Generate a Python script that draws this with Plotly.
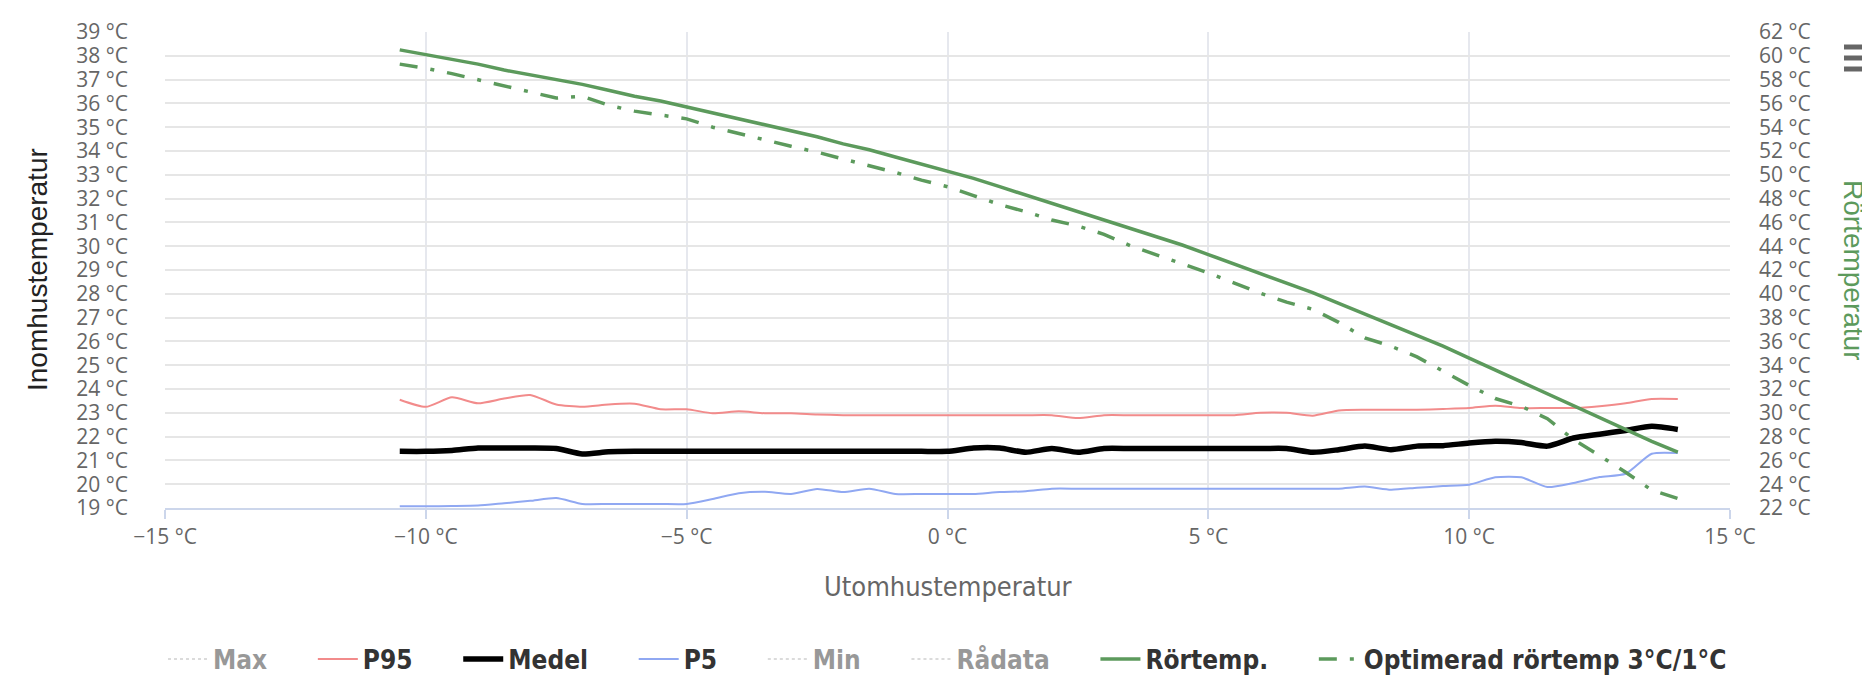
import plotly.graph_objects as go

outdoor = [-10.5, -10, -9.5, -9, -8.5, -8, -7.5, -7, -6.5, -6, -5.5, -5, -4.5, -4, -3.5, -3,
           -2.5, -2, -1.5, -1, -0.5, 0, 0.5, 1, 1.5, 2, 2.5, 3, 3.5, 4, 4.5, 5, 5.5, 6, 6.5,
           7, 7.5, 8, 8.5, 9, 9.5, 10, 10.5, 11, 11.5, 12, 12.5, 13, 13.5, 14]

p95 = [23.55, 23.25, 23.65, 23.4, 23.6, 23.75, 23.35, 23.25, 23.35, 23.38, 23.15, 23.15, 22.98,
       23.06, 22.98, 22.98, 22.93, 22.9, 22.9, 22.9, 22.9, 22.9, 22.9, 22.9, 22.9, 22.9, 22.78,
       22.9, 22.9, 22.9, 22.9, 22.9, 22.9, 23.0, 23.0, 22.88, 23.1, 23.13, 23.13, 23.13, 23.16,
       23.2, 23.3, 23.2, 23.2, 23.2, 23.28, 23.4, 23.58, 23.58]

medel = [21.38, 21.38, 21.42, 21.52, 21.52, 21.52, 21.5, 21.27, 21.36, 21.38, 21.38, 21.38, 21.38,
         21.38, 21.38, 21.38, 21.38, 21.38, 21.38, 21.38, 21.38, 21.38, 21.52, 21.52, 21.34, 21.5,
         21.34, 21.5, 21.5, 21.5, 21.5, 21.5, 21.5, 21.5, 21.5, 21.34, 21.45, 21.6, 21.45, 21.6,
         21.62, 21.73, 21.8, 21.75, 21.6, 21.94, 22.1, 22.26, 22.43, 22.3]

p5 = [19.07, 19.07, 19.08, 19.1, 19.2, 19.3, 19.42, 19.17, 19.17, 19.17, 19.17, 19.17, 19.38,
      19.62, 19.68, 19.59, 19.8, 19.67, 19.81, 19.59, 19.59, 19.59, 19.59, 19.67, 19.7, 19.81,
      19.81, 19.81, 19.81, 19.81, 19.81, 19.81, 19.81, 19.81, 19.81, 19.81, 19.81, 19.9, 19.77,
      19.85, 19.92, 19.98, 20.29, 20.29, 19.88, 20.05, 20.3, 20.44, 21.28, 21.31]

rortemp = [60.5, 60.1, 59.7, 59.3, 58.8, 58.4, 58.0, 57.6, 57.1, 56.6, 56.2, 55.7, 55.2, 54.7,
           54.2, 53.7, 53.2, 52.6, 52.1, 51.5, 50.9, 50.3, 49.7, 49.0, 48.3, 47.6, 46.9, 46.2,
           45.5, 44.8, 44.1, 43.3, 42.5, 41.7, 40.9, 40.1, 39.2, 38.3, 37.4, 36.5, 35.6, 34.6,
           33.6, 32.6, 31.6, 30.6, 29.6, 28.6, 27.6, 26.7]

optimerad = [59.3, 58.95, 58.5, 58.0, 57.45, 57.0, 56.45, 56.6, 55.85, 55.35, 55.05, 54.7, 54.0,
             53.45, 52.9, 52.4, 51.9, 51.35, 50.75, 50.2, 49.55, 49.0, 48.25, 47.5, 46.9, 46.2,
             45.7, 45.0, 44.05, 43.3, 42.55, 41.75, 40.9, 40.05, 39.3, 38.7, 37.6, 36.3, 35.6,
             34.7, 33.5, 32.3, 31.2, 30.55, 29.5, 27.75, 26.4, 25.0, 23.5, 22.8]

# series hidden in the reference (legend only, no values shown)
hidden_values = [None] * len(outdoor)

GREEN = "#5c9a5c"
W, H = 1870, 678
L, R, T, B = 157, 1722, 24, 500
NARROW = "DejaVu Sans Condensed, Roboto, sans-serif"
PAD = "\u00a0" * 5  # spacing between legend entries

def px(xp):
    return (xp - L) / (R - L)

def py(yp):
    return (B - yp) / (B - T)

fig = go.Figure()
hidden_grey = "#b8b8b8"
fig.add_trace(go.Scatter(x=outdoor, y=hidden_values, name="Max" + PAD, mode="lines", visible="legendonly",
                         line=dict(color=hidden_grey, width=2, dash="dot")))
fig.add_trace(go.Scatter(x=outdoor, y=p95, name="P95" + PAD, mode="lines",
                         line=dict(color="#f28b8b", width=2, shape="spline", smoothing=0.6)))
fig.add_trace(go.Scatter(x=outdoor, y=medel, name="Medel" + PAD, mode="lines",
                         line=dict(color="#000000", width=5.5, shape="spline", smoothing=0.6)))
fig.add_trace(go.Scatter(x=outdoor, y=p5, name="P5" + PAD, mode="lines",
                         line=dict(color="#90a8f2", width=2, shape="spline", smoothing=0.6)))
fig.add_trace(go.Scatter(x=outdoor, y=hidden_values, name="Min" + PAD, mode="lines", visible="legendonly",
                         line=dict(color=hidden_grey, width=2, dash="dot")))
fig.add_trace(go.Scatter(x=outdoor, y=hidden_values, name="Rådata" + PAD, mode="lines", visible="legendonly",
                         line=dict(color=hidden_grey, width=2, dash="dot")))
fig.add_trace(go.Scatter(x=outdoor, y=rortemp, name="Rörtemp." + PAD, mode="lines", yaxis="y2",
                         line=dict(color=GREEN, width=3.5)))
fig.add_trace(go.Scatter(x=outdoor, y=optimerad, name="Optimerad rörtemp 3°C/1°C", mode="lines",
                         yaxis="y2",
                         line=dict(color=GREEN, width=3.5, dash="18px,13px,4px,13px")))

tickfont = dict(family="Open Sans", size=21, color="#666666")

fig.update_layout(
    width=W, height=H,
    margin=dict(l=L, r=W - R, t=T, b=H - B, autoexpand=False),
    paper_bgcolor="white", plot_bgcolor="white",
    showlegend=True,
    xaxis=dict(range=[-15, 15], dtick=5, tick0=-15, ticksuffix=" °C",
               showgrid=True, gridcolor="#e6e8ee", gridwidth=2,
               showline=True, linecolor="#ccd6eb", linewidth=2,
               ticks="outside", ticklen=9, tickwidth=2, tickcolor="#ccd6eb",
               tickfont=tickfont, zeroline=False, automargin=False),
    yaxis=dict(range=[19, 39], dtick=1, tick0=19, ticksuffix=" °C",
               showgrid=True, gridcolor="#e6e6e6", gridwidth=2,
               showline=False, ticks="", tickfont=tickfont, zeroline=False,
               ticklabelstandoff=36, automargin=False),
    yaxis2=dict(range=[22, 62], dtick=2, tick0=22, ticksuffix=" °C",
                overlaying="y", side="right", showgrid=False, showline=False,
                ticks="", tickfont=tickfont, zeroline=False, ticklabelstandoff=28,
                automargin=False),
    legend=dict(orientation="h", x=0.5, xanchor="center", y=py(651), yanchor="middle",
                font=dict(family=NARROW, size=26, color="#333333", weight="bold"),
                traceorder="normal", itemwidth=40, bgcolor="rgba(0,0,0,0)"),
    font=dict(family="Open Sans"),
    annotations=[
        dict(text="Utomhustemperatur", x=0.5, y=py(578), xref="paper", yref="paper",
             showarrow=False, xanchor="center", yanchor="middle",
             font=dict(family=NARROW, size=27, color="#666666")),
        dict(text="Inomhustemperatur", x=px(29), y=0.5, xref="paper", yref="paper",
             showarrow=False, xanchor="center", yanchor="middle", textangle=-90,
             font=dict(family="Liberation Sans", size=28, color="#222222")),
        dict(text="Rörtemperatur", x=px(1846), y=0.5, xref="paper", yref="paper",
             showarrow=False, xanchor="center", yanchor="middle", textangle=90,
             font=dict(family="Liberation Sans", size=28, color=GREEN)),
    ],
    shapes=[
        dict(type="line", xref="paper", yref="paper", x0=px(1836), x1=px(1866),
             y0=py(yy), y1=py(yy), line=dict(color="#666666", width=5))
        for yy in (39, 50, 61)
    ],
)

fig.write_html("out.html")
